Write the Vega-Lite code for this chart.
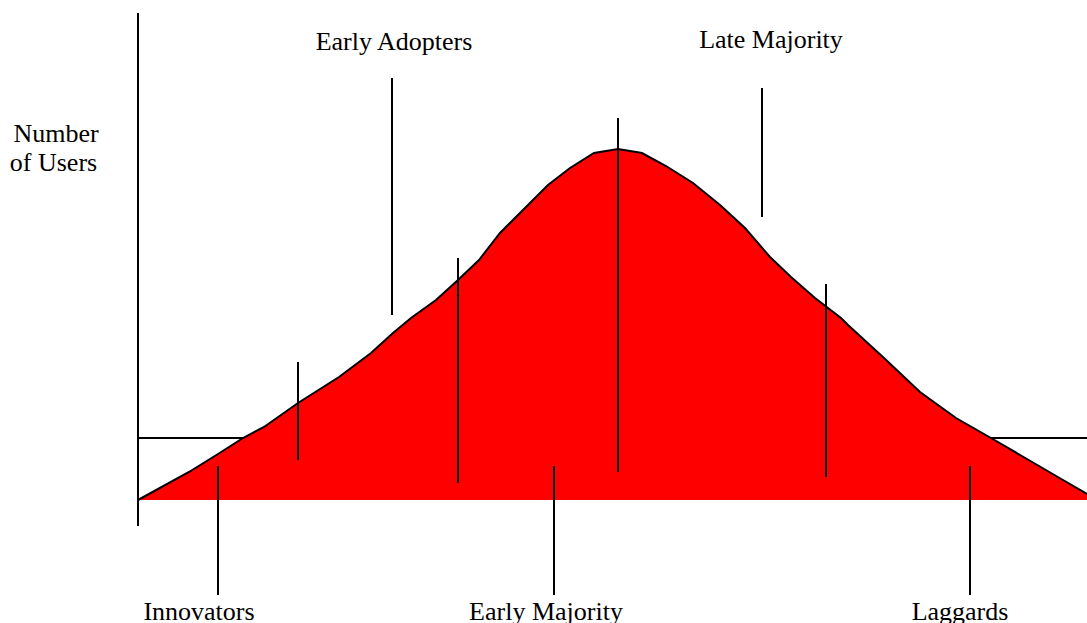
{
  "$schema": "https://vega.github.io/schema/vega-lite/v6.json",
  "width": 1087,
  "height": 623,
  "padding": 0,
  "autosize": {"type": "none"},
  "background": "white",
  "config": {"view": {"stroke": null}},
  "datasets": {
    "curve": [
      {"x": 0, "users": 0}, {"x": 51, "users": 28}, {"x": 80, "users": 46}, {"x": 105, "users": 62},
      {"x": 126, "users": 73}, {"x": 160, "users": 97}, {"x": 201, "users": 123}, {"x": 233, "users": 147},
      {"x": 255, "users": 167}, {"x": 273, "users": 182}, {"x": 298, "users": 200}, {"x": 320, "users": 220},
      {"x": 341, "users": 240}, {"x": 362, "users": 267}, {"x": 387, "users": 292}, {"x": 410, "users": 315},
      {"x": 432, "users": 332}, {"x": 456, "users": 347}, {"x": 480, "users": 351}, {"x": 504, "users": 347},
      {"x": 528, "users": 334}, {"x": 555, "users": 317}, {"x": 582, "users": 295}, {"x": 607, "users": 272},
      {"x": 632, "users": 243}, {"x": 653, "users": 223}, {"x": 677, "users": 202}, {"x": 703, "users": 182},
      {"x": 710, "users": 175}, {"x": 746, "users": 142}, {"x": 782, "users": 108}, {"x": 818, "users": 82},
      {"x": 853, "users": 62}, {"x": 889, "users": 41}, {"x": 925, "users": 20}, {"x": 949, "users": 6}
    ],
    "dividers": [
      {"x": 80, "y1": 34, "y2": -95},
      {"x": 160, "y1": 138, "y2": 40},
      {"x": 254, "y1": 422, "y2": 185},
      {"x": 320, "y1": 242, "y2": 17},
      {"x": 416, "y1": 34, "y2": -95},
      {"x": 480, "y1": 382, "y2": 28},
      {"x": 624, "y1": 412, "y2": 283},
      {"x": 688, "y1": 216, "y2": 23},
      {"x": 832, "y1": 34, "y2": -95}
    ],
    "labels": [
      {"label": "Early Adopters", "x": 256, "y": 450},
      {"label": "Late Majority", "x": 633, "y": 452},
      {"label": "Number", "x": -82, "y": 358},
      {"label": "of Users", "x": -84.5, "y": 329},
      {"label": "Innovators", "x": 61, "y": -119.5},
      {"label": "Early Majority", "x": 408, "y": -119.5},
      {"label": "Laggards", "x": 822, "y": -119.5}
    ],
    "axisline": [{"x": 0, "y1": -26, "y2": 487}],
    "baseline": [{"x1": 0, "x2": 949, "y": 62}]
  },
  "layer": [
    {
      "data": {"name": "axisline"},
      "mark": {"type": "rule", "color": "black", "strokeWidth": 2},
      "encoding": {
        "x": {"field": "x", "type": "quantitative", "axis": null, "scale": {"domain": [-138, 949], "nice": false, "zero": false}},
        "y": {"field": "y1", "type": "quantitative", "axis": null, "scale": {"domain": [-123, 500], "nice": false, "zero": false}},
        "y2": {"field": "y2"}
      }
    },
    {
      "data": {"name": "baseline"},
      "mark": {"type": "rule", "color": "black", "strokeWidth": 2},
      "encoding": {
        "x": {"field": "x1", "type": "quantitative"},
        "x2": {"field": "x2"},
        "y": {"field": "y", "type": "quantitative"}
      }
    },
    {
      "data": {"name": "curve"},
      "mark": {"type": "area", "color": "#ff0000", "opacity": 1, "line": {"color": "black", "strokeWidth": 2}},
      "encoding": {
        "x": {"field": "x", "type": "quantitative"},
        "y": {"field": "users", "type": "quantitative"},
        "y2": {"datum": 0}
      }
    },
    {
      "data": {"name": "dividers"},
      "mark": {"type": "rule", "color": "black", "strokeWidth": 2},
      "encoding": {
        "x": {"field": "x", "type": "quantitative"},
        "y": {"field": "y1", "type": "quantitative"},
        "y2": {"field": "y2"}
      }
    },
    {
      "data": {"name": "labels"},
      "mark": {"type": "text", "font": "Liberation Serif", "fontSize": 26, "color": "black", "align": "center", "baseline": "alphabetic"},
      "encoding": {
        "x": {"field": "x", "type": "quantitative"},
        "y": {"field": "y", "type": "quantitative"},
        "text": {"field": "label"}
      }
    }
  ]
}
